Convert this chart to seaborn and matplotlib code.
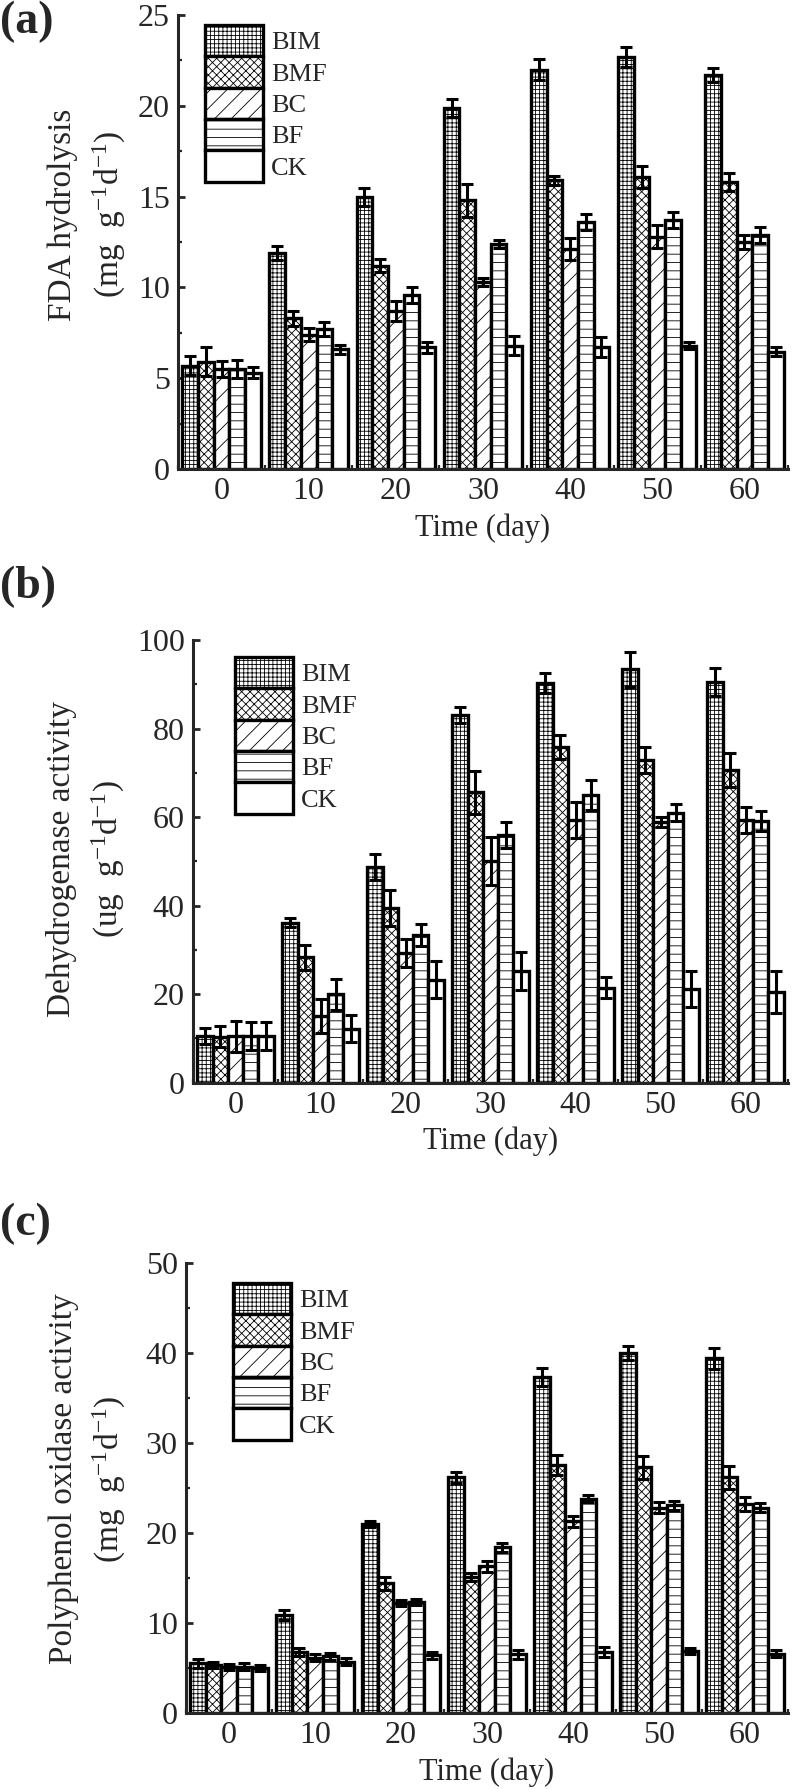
import numpy as np
import pandas as pd
import seaborn as sns
import matplotlib.pyplot as plt
from matplotlib.ticker import MultipleLocator, FixedLocator

days = ['0', '10', '20', '30', '40', '50', '60']
treatments = ['BIM', 'BMF', 'BC', 'BF', 'CK']
hatches = ['++++', 'xxxx', '//', '--', '']

# (a) FDA hydrolysis, mean and error
fda_mean = {
    'BIM': [5.7, 11.9, 15.0, 19.9, 22.0, 22.7, 21.7],
    'BMF': [5.9, 8.3, 11.2, 14.8, 15.9, 16.1, 15.8],
    'BC':  [5.5, 7.4, 8.7, 10.3, 12.1, 12.8, 12.5],
    'BF':  [5.5, 7.7, 9.6, 12.4, 13.6, 13.7, 12.9],
    'CK':  [5.3, 6.6, 6.7, 6.8, 6.7, 6.8, 6.45],
}
fda_err = {
    'BIM': [0.5, 0.4, 0.5, 0.5, 0.6, 0.55, 0.4],
    'BMF': [0.8, 0.4, 0.35, 0.9, 0.25, 0.6, 0.5],
    'BC':  [0.45, 0.35, 0.55, 0.2, 0.6, 0.65, 0.4],
    'BF':  [0.5, 0.4, 0.45, 0.2, 0.45, 0.45, 0.45],
    'CK':  [0.3, 0.25, 0.3, 0.5, 0.55, 0.2, 0.25],
}

# (b) dehydrogenase activity
dha_mean = {
    'BIM': [10.6, 36.1, 48.7, 83.0, 90.3, 93.4, 90.5],
    'BMF': [10.4, 28.3, 39.4, 65.6, 75.8, 72.9, 70.6],
    'BC':  [10.5, 15.0, 29.3, 50.1, 59.3, 58.9, 59.3],
    'BF':  [10.5, 19.9, 33.3, 55.9, 65.0, 61.0, 59.1],
    'CK':  [10.5, 12.2, 23.2, 25.3, 21.4, 21.1, 20.5],
}
dha_err = {
    'BIM': [1.8, 1.0, 2.9, 1.8, 2.3, 3.9, 3.2],
    'BMF': [2.3, 2.8, 4.1, 4.8, 2.7, 3.0, 3.9],
    'BC':  [3.5, 3.8, 3.1, 5.4, 4.1, 1.1, 3.0],
    'BF':  [3.1, 3.4, 2.5, 3.0, 3.4, 2.0, 2.3],
    'CK':  [3.1, 3.0, 4.2, 4.3, 2.4, 4.1, 4.7],
}

# (c) polyphenol oxidase activity
ppo_mean = {
    'BIM': [5.5, 10.9, 21.0, 26.2, 37.3, 40.0, 39.4],
    'BMF': [5.3, 6.75, 14.4, 15.1, 27.6, 27.3, 26.2],
    'BC':  [5.1, 6.15, 12.2, 16.3, 21.3, 22.8, 23.2],
    'BF':  [5.15, 6.3, 12.35, 18.4, 23.8, 23.1, 22.8],
    'CK':  [5.0, 5.7, 6.4, 6.55, 6.75, 6.9, 6.6],
}
ppo_err = {
    'BIM': [0.5, 0.55, 0.35, 0.6, 1.0, 0.8, 1.2],
    'BMF': [0.35, 0.45, 0.7, 0.4, 1.1, 1.3, 1.3],
    'BC':  [0.3, 0.35, 0.35, 0.6, 0.6, 0.6, 0.8],
    'BF':  [0.35, 0.4, 0.3, 0.5, 0.4, 0.5, 0.5],
    'CK':  [0.3, 0.4, 0.4, 0.5, 0.55, 0.35, 0.4],
}

sns.set_style('ticks')
plt.rcParams['font.family'] = ['Liberation Serif', 'DejaVu Serif']
plt.rcParams['mathtext.fontset'] = 'custom'
plt.rcParams['mathtext.rm'] = 'Liberation Serif'
plt.rcParams['mathtext.it'] = 'Liberation Serif:italic'
plt.rcParams['hatch.linewidth'] = 0.6
plt.rcParams['hatch.color'] = 'black'


def panel(ax, means, errs, ymax, ystep, ylabel, label_xy, leg_xy):
    df = pd.DataFrame([(d, t, means[t][i]) for t in treatments for i, d in enumerate(days)],
                      columns=['Time', 'Treatment', 'value'])
    sns.barplot(data=df, x='Time', y='value', hue='Treatment', order=days,
                hue_order=treatments, palette={t: 'white' for t in treatments},
                saturation=1, width=0.9, errorbar=None, edgecolor='black',
                linewidth=2.4, legend=False, ax=ax)
    bars = list(ax.containers)
    for cont, h, t in zip(bars, hatches, treatments):
        xs = [p.get_x() + p.get_width() / 2 for p in cont]
        ys = [p.get_height() for p in cont]
        for p in cont:
            p.set_hatch(h)
        ax.errorbar(xs, ys, yerr=errs[t], fmt='none', ecolor='black',
                    elinewidth=2.2, capsize=4.5, capthick=2.2, zorder=5)
    ax.legend(bars, treatments, loc='upper left', bbox_to_anchor=leg_xy,
              frameon=False, fontsize=19, handlelength=2.2, handleheight=1.45,
              labelspacing=0, handletextpad=0.3, borderpad=0, borderaxespad=0)
    ax.set_xlim(-0.5, 6.5)
    ax.set_ylim(0, ymax)
    ax.yaxis.set_major_locator(MultipleLocator(ystep))
    ax.yaxis.set_minor_locator(MultipleLocator(ystep / 2))
    ax.xaxis.set_minor_locator(FixedLocator(np.arange(-0.5, 7, 1)))
    ax.tick_params(which='major', direction='in', length=5, width=2,
                   labelsize=23, pad=6)
    ax.tick_params(which='minor', direction='in', length=3, width=1.6)
    sns.despine(ax=ax)
    for s in ['left', 'bottom']:
        ax.spines[s].set_linewidth(2.2)
    ax.set_xlabel('Time (day)', fontsize=22, labelpad=5)
    ax.set_ylabel(ylabel, fontsize=24, linespacing=1.45)
    ax.yaxis.set_label_coords(*label_xy)


fig = plt.figure(figsize=(7.92, 17.89), dpi=100)
ax_a = fig.add_axes([0.2247, 0.7378, 0.7702, 0.2538])
ax_b = fig.add_axes([0.2437, 0.3949, 0.7513, 0.2473])
ax_c = fig.add_axes([0.2348, 0.0425, 0.7601, 0.2515])

panel(ax_a, fda_mean, fda_err, 25, 5,
      'FDA hydrolysis\n(mg  g$^{-1}$d$^{-1}$)', (-0.082, 0.56), (0.044, 0.978))
panel(ax_b, dha_mean, dha_err, 100, 20,
      'Dehydrogenase activity\n(ug  g$^{-1}$d$^{-1}$)', (-0.111, 0.505), (0.0706, 0.962))
panel(ax_c, ppo_mean, ppo_err, 50, 10,
      'Polyphenol oxidase activity\n(mg  g$^{-1}$d$^{-1}$)', (-0.096, 0.52), (0.078, 0.956))

fig.text(0.0, 0.9995, '(a)', fontsize=33, fontweight='bold', va='top', ha='left')
fig.text(0.0, 0.6836, '(b)', fontsize=33, fontweight='bold', va='top', ha='left')
fig.text(0.0, 0.3275, '(c)', fontsize=33, fontweight='bold', va='top', ha='left')

fig.savefig('out.png', dpi=100)
